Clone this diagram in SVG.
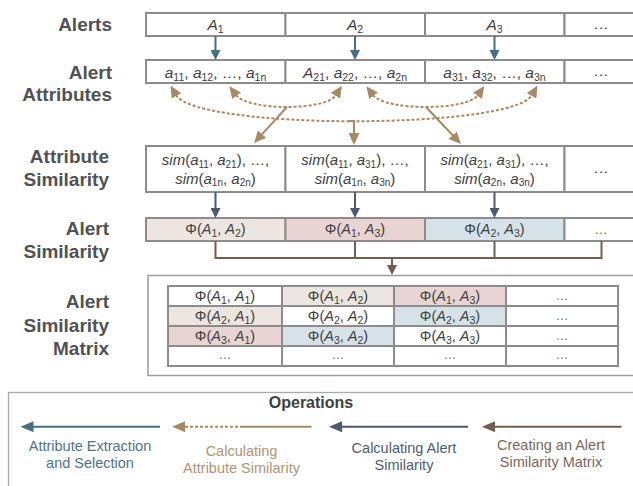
<svg xmlns="http://www.w3.org/2000/svg" width="633" height="486" viewBox="0 0 633 486">
  <style>
    text { font-family: "Liberation Sans", Arial, sans-serif; }
    .lbl { font-size: 19px; font-weight: bold; fill: #525252; text-anchor: end; }
    .cell { fill: #ffffff; stroke: #8c8c8c; stroke-width: 2; }
    .beige { fill: #ede5df; }
    .pink { fill: #e8d4d2; }
    .blue { fill: #d5e3e9; }
    .t { font-size: 15.5px; fill: #404040; text-anchor: middle; }
    .s { font-size: 15px; fill: #404040; text-anchor: middle; }
    .m { font-size: 14.5px; fill: #404040; text-anchor: middle; }
    .dots { font-size: 13px; fill: #707070; text-anchor: middle; }
    .i { font-style: italic; }
    .sub { font-size: 10.5px; font-style: normal; }
    .ssub { font-size: 10px; font-style: normal; }
    .frame { fill: none; stroke: #9c9c9c; stroke-width: 1.5; }
    .legend { fill: none; stroke: #aaaaaa; stroke-width: 1.3; }
    .teal { stroke: #456f87; stroke-width: 2; fill: none; }
    .slate { stroke: #4b5a6f; stroke-width: 2; fill: none; }
    .tan { stroke: #a88a62; stroke-width: 2; fill: none; }
    .tandash { stroke: #a88a62; stroke-width: 2; fill: none; stroke-dasharray: 3 2; }
    .brown { stroke: #725e51; stroke-width: 2; fill: none; }
    .op { font-size: 14.5px; text-anchor: middle; }
  </style>
  <defs>
    <marker id="hTeal" viewBox="0 0 10 10" markerUnits="userSpaceOnUse" markerWidth="10" markerHeight="10" refX="1" refY="5" orient="auto">
      <path d="M0,0 L10,5 L0,10 z" fill="#456f87"/>
    </marker>
    <marker id="hSlate" viewBox="0 0 10 10" markerUnits="userSpaceOnUse" markerWidth="10" markerHeight="10" refX="1" refY="5" orient="auto">
      <path d="M0,0 L10,5 L0,10 z" fill="#4b5a6f"/>
    </marker>
    <marker id="hBrown" viewBox="0 0 10 10" markerUnits="userSpaceOnUse" markerWidth="10" markerHeight="10" refX="1" refY="5" orient="auto">
      <path d="M0,0 L10,5 L0,10 z" fill="#725e51"/>
    </marker>
    <marker id="hTan" viewBox="0 0 12 11" markerUnits="userSpaceOnUse" markerWidth="12" markerHeight="11" refX="1" refY="5.5" orient="auto-start-reverse">
      <path d="M0,0 L12,5.5 L0,11 z" fill="#a88a62"/>
    </marker>
    <marker id="lTeal" viewBox="0 0 13 11" markerUnits="userSpaceOnUse" markerWidth="13" markerHeight="11" refX="1" refY="5.5" orient="auto">
      <path d="M0,0 L13,5.5 L0,11 z" fill="#456f87"/>
    </marker>
    <marker id="lTan" viewBox="0 0 13 11" markerUnits="userSpaceOnUse" markerWidth="13" markerHeight="11" refX="1" refY="5.5" orient="auto">
      <path d="M0,0 L13,5.5 L0,11 z" fill="#a88a62"/>
    </marker>
    <marker id="lSlate" viewBox="0 0 13 11" markerUnits="userSpaceOnUse" markerWidth="13" markerHeight="11" refX="1" refY="5.5" orient="auto">
      <path d="M0,0 L13,5.5 L0,11 z" fill="#4b5a6f"/>
    </marker>
    <marker id="lBrown" viewBox="0 0 13 11" markerUnits="userSpaceOnUse" markerWidth="13" markerHeight="11" refX="1" refY="5.5" orient="auto">
      <path d="M0,0 L13,5.5 L0,11 z" fill="#725e51"/>
    </marker>
  </defs>

  <!-- row labels -->
  <g id="labels">
    <text class="lbl" x="112" y="31">Alerts</text>
    <text class="lbl" x="112" y="79">Alert</text>
    <text class="lbl" x="112" y="101">Attributes</text>
    <text class="lbl" x="109" y="163">Attribute</text>
    <text class="lbl" x="109" y="186">Similarity</text>
    <text class="lbl" x="109" y="235">Alert</text>
    <text class="lbl" x="109" y="258">Similarity</text>
    <text class="lbl" x="109" y="308">Alert</text>
    <text class="lbl" x="109" y="331.5">Similarity</text>
    <text class="lbl" x="109" y="355">Matrix</text>
  </g>

  <!-- alerts row -->
  <g id="alert-1">
    <rect class="cell" x="146" y="13" width="139.5" height="23"/>
    <text class="t" x="215.5" y="30"><tspan class="i">A</tspan><tspan class="sub" dy="3">1</tspan></text>
  </g>
  <g id="alert-2">
    <rect class="cell" x="285.5" y="13" width="139.5" height="23"/>
    <text class="t" x="355" y="30"><tspan class="i">A</tspan><tspan class="sub" dy="3">2</tspan></text>
  </g>
  <g id="alert-3">
    <rect class="cell" x="425" y="13" width="139.5" height="23"/>
    <text class="t" x="494.5" y="30"><tspan class="i">A</tspan><tspan class="sub" dy="3">3</tspan></text>
  </g>
  <g id="alert-more">
    <rect class="cell" x="564.5" y="13" width="80" height="23"/>
    <text class="t" x="601" y="29">…</text>
  </g>

  <!-- attributes row -->
  <g id="attrs-1">
    <rect class="cell" x="146" y="60" width="139.5" height="23"/>
    <text class="t" x="215.5" y="77.5"><tspan class="i">a</tspan><tspan class="sub" dy="3">11</tspan><tspan dy="-3">, </tspan><tspan class="i">a</tspan><tspan class="sub" dy="3">12</tspan><tspan dy="-3">, …, </tspan><tspan class="i">a</tspan><tspan class="sub" dy="3">1n</tspan></text>
  </g>
  <g id="attrs-2">
    <rect class="cell" x="285.5" y="60" width="139.5" height="23"/>
    <text class="t" x="355" y="77.5"><tspan class="i">A</tspan><tspan class="sub" dy="3">21</tspan><tspan dy="-3">, </tspan><tspan class="i">a</tspan><tspan class="sub" dy="3">22</tspan><tspan dy="-3">, …, </tspan><tspan class="i">a</tspan><tspan class="sub" dy="3">2n</tspan></text>
  </g>
  <g id="attrs-3">
    <rect class="cell" x="425" y="60" width="139.5" height="23"/>
    <text class="t" x="494.5" y="77.5"><tspan class="i">a</tspan><tspan class="sub" dy="3">31</tspan><tspan dy="-3">, </tspan><tspan class="i">a</tspan><tspan class="sub" dy="3">32</tspan><tspan dy="-3">, …, </tspan><tspan class="i">a</tspan><tspan class="sub" dy="3">3n</tspan></text>
  </g>
  <g id="attrs-more">
    <rect class="cell" x="564.5" y="60" width="80" height="23"/>
    <text class="t" x="601" y="76">…</text>
  </g>

  <!-- attribute similarity row -->
  <g id="attrsim-12">
    <rect class="cell" x="146" y="146" width="139.5" height="46"/>
    <text class="s" x="215.5" y="165"><tspan class="i">sim</tspan>(<tspan class="i">a</tspan><tspan class="ssub" dy="2.5">11</tspan><tspan dy="-2.5">, </tspan><tspan class="i">a</tspan><tspan class="ssub" dy="2.5">21</tspan><tspan dy="-2.5">), …,</tspan></text>
    <text class="s" x="215.5" y="183.5"><tspan class="i">sim</tspan>(<tspan class="i">a</tspan><tspan class="ssub" dy="2.5">1n</tspan><tspan dy="-2.5">, </tspan><tspan class="i">a</tspan><tspan class="ssub" dy="2.5">2n</tspan><tspan dy="-2.5">)</tspan></text>
  </g>
  <g id="attrsim-13">
    <rect class="cell" x="285.5" y="146" width="139.5" height="46"/>
    <text class="s" x="355" y="165"><tspan class="i">sim</tspan>(<tspan class="i">a</tspan><tspan class="ssub" dy="2.5">11</tspan><tspan dy="-2.5">, </tspan><tspan class="i">a</tspan><tspan class="ssub" dy="2.5">31</tspan><tspan dy="-2.5">), …,</tspan></text>
    <text class="s" x="355" y="183.5"><tspan class="i">sim</tspan>(<tspan class="i">a</tspan><tspan class="ssub" dy="2.5">1n</tspan><tspan dy="-2.5">, </tspan><tspan class="i">a</tspan><tspan class="ssub" dy="2.5">3n</tspan><tspan dy="-2.5">)</tspan></text>
  </g>
  <g id="attrsim-23">
    <rect class="cell" x="425" y="146" width="139.5" height="46"/>
    <text class="s" x="494.5" y="165"><tspan class="i">sim</tspan>(<tspan class="i">a</tspan><tspan class="ssub" dy="2.5">21</tspan><tspan dy="-2.5">, </tspan><tspan class="i">a</tspan><tspan class="ssub" dy="2.5">31</tspan><tspan dy="-2.5">), …,</tspan></text>
    <text class="s" x="494.5" y="183.5"><tspan class="i">sim</tspan>(<tspan class="i">a</tspan><tspan class="ssub" dy="2.5">2n</tspan><tspan dy="-2.5">, </tspan><tspan class="i">a</tspan><tspan class="ssub" dy="2.5">3n</tspan><tspan dy="-2.5">)</tspan></text>
  </g>
  <g id="attrsim-more">
    <rect class="cell" x="564.5" y="146" width="80" height="46"/>
    <text class="t" x="601" y="173">…</text>
  </g>

  <!-- alert similarity row -->
  <g id="alertsim-12">
    <rect class="cell beige" x="146" y="218" width="139.5" height="23"/>
    <text class="m" x="215.5" y="234">Φ(<tspan class="i">A</tspan><tspan class="sub" dy="3">1</tspan><tspan dy="-3">, </tspan><tspan class="i">A</tspan><tspan class="sub" dy="3">2</tspan><tspan dy="-3">)</tspan></text>
  </g>
  <g id="alertsim-13">
    <rect class="cell pink" x="285.5" y="218" width="139.5" height="23"/>
    <text class="m" x="355" y="234">Φ(<tspan class="i">A</tspan><tspan class="sub" dy="3">1</tspan><tspan dy="-3">, </tspan><tspan class="i">A</tspan><tspan class="sub" dy="3">3</tspan><tspan dy="-3">)</tspan></text>
  </g>
  <g id="alertsim-23">
    <rect class="cell blue" x="425" y="218" width="139.5" height="23"/>
    <text class="m" x="494.5" y="234">Φ(<tspan class="i">A</tspan><tspan class="sub" dy="3">2</tspan><tspan dy="-3">, </tspan><tspan class="i">A</tspan><tspan class="sub" dy="3">3</tspan><tspan dy="-3">)</tspan></text>
  </g>
  <g id="alertsim-more">
    <rect class="cell" x="564.5" y="218" width="80" height="23"/>
    <text class="dots" x="601" y="234">…</text>
  </g>

  <!-- similarity matrix -->
  <g id="matrix">
    <rect class="frame" x="148" y="275.5" width="500" height="100"/>
    <g id="matrix-row-1">
      <rect class="cell" x="168" y="286" width="114" height="20"/>
      <rect class="cell beige" x="282" y="286" width="112" height="20"/>
      <rect class="cell pink" x="394" y="286" width="112" height="20"/>
      <rect class="cell" x="506" y="286" width="112" height="20"/>
      <text class="m" x="225" y="301">Φ(<tspan class="i">A</tspan><tspan class="sub" dy="3">1</tspan><tspan dy="-3">, </tspan><tspan class="i">A</tspan><tspan class="sub" dy="3">1</tspan><tspan dy="-3">)</tspan></text>
      <text class="m" x="338" y="301">Φ(<tspan class="i">A</tspan><tspan class="sub" dy="3">1</tspan><tspan dy="-3">, </tspan><tspan class="i">A</tspan><tspan class="sub" dy="3">2</tspan><tspan dy="-3">)</tspan></text>
      <text class="m" x="450" y="301">Φ(<tspan class="i">A</tspan><tspan class="sub" dy="3">1</tspan><tspan dy="-3">, </tspan><tspan class="i">A</tspan><tspan class="sub" dy="3">3</tspan><tspan dy="-3">)</tspan></text>
      <text class="dots" x="562" y="300">…</text>
    </g>
    <g id="matrix-row-2">
      <rect class="cell beige" x="168" y="306" width="114" height="20"/>
      <rect class="cell" x="282" y="306" width="112" height="20"/>
      <rect class="cell blue" x="394" y="306" width="112" height="20"/>
      <rect class="cell" x="506" y="306" width="112" height="20"/>
      <text class="m" x="225" y="321">Φ(<tspan class="i">A</tspan><tspan class="sub" dy="3">2</tspan><tspan dy="-3">, </tspan><tspan class="i">A</tspan><tspan class="sub" dy="3">1</tspan><tspan dy="-3">)</tspan></text>
      <text class="m" x="338" y="321">Φ(<tspan class="i">A</tspan><tspan class="sub" dy="3">2</tspan><tspan dy="-3">, </tspan><tspan class="i">A</tspan><tspan class="sub" dy="3">2</tspan><tspan dy="-3">)</tspan></text>
      <text class="m" x="450" y="321">Φ(<tspan class="i">A</tspan><tspan class="sub" dy="3">2</tspan><tspan dy="-3">, </tspan><tspan class="i">A</tspan><tspan class="sub" dy="3">3</tspan><tspan dy="-3">)</tspan></text>
      <text class="dots" x="562" y="320">…</text>
    </g>
    <g id="matrix-row-3">
      <rect class="cell pink" x="168" y="326" width="114" height="20"/>
      <rect class="cell blue" x="282" y="326" width="112" height="20"/>
      <rect class="cell" x="394" y="326" width="112" height="20"/>
      <rect class="cell" x="506" y="326" width="112" height="20"/>
      <text class="m" x="225" y="341">Φ(<tspan class="i">A</tspan><tspan class="sub" dy="3">3</tspan><tspan dy="-3">, </tspan><tspan class="i">A</tspan><tspan class="sub" dy="3">1</tspan><tspan dy="-3">)</tspan></text>
      <text class="m" x="338" y="341">Φ(<tspan class="i">A</tspan><tspan class="sub" dy="3">3</tspan><tspan dy="-3">, </tspan><tspan class="i">A</tspan><tspan class="sub" dy="3">2</tspan><tspan dy="-3">)</tspan></text>
      <text class="m" x="450" y="341">Φ(<tspan class="i">A</tspan><tspan class="sub" dy="3">3</tspan><tspan dy="-3">, </tspan><tspan class="i">A</tspan><tspan class="sub" dy="3">3</tspan><tspan dy="-3">)</tspan></text>
      <text class="dots" x="562" y="340">…</text>
    </g>
    <g id="matrix-row-4">
      <rect class="cell" x="168" y="346" width="114" height="20"/>
      <rect class="cell" x="282" y="346" width="112" height="20"/>
      <rect class="cell" x="394" y="346" width="112" height="20"/>
      <rect class="cell" x="506" y="346" width="112" height="20"/>
      <text class="dots" x="225" y="359">…</text>
      <text class="dots" x="338" y="359">…</text>
      <text class="dots" x="450" y="359">…</text>
      <text class="dots" x="562" y="359">…</text>
    </g>
  </g>

  <!-- connectors -->
  <g id="connectors">
    <!-- attribute extraction -->
    <line class="teal" x1="215.5" y1="36" x2="215.5" y2="51" marker-end="url(#hTeal)"/>
    <line class="teal" x1="355" y1="36" x2="355" y2="51" marker-end="url(#hTeal)"/>
    <line class="teal" x1="494.5" y1="36" x2="494.5" y2="51" marker-end="url(#hTeal)"/>

    <!-- attribute pair comparisons -->
    <path class="tandash" d="M236,95 C248,111 326,111 336,95" marker-start="url(#hTan)" marker-end="url(#hTan)"/>
    <path class="tandash" d="M373,95 C385,111 467,111 478,95" marker-start="url(#hTan)" marker-end="url(#hTan)"/>
    <path class="tandash" d="M176,95 C196,130 512,130 532,95" marker-start="url(#hTan)" marker-end="url(#hTan)"/>
    <line class="tan" x1="287" y1="107" x2="261.4" y2="134.9" marker-end="url(#hTan)"/>
    <polyline class="tan" points="349,121 354,121 354,134" marker-end="url(#hTan)"/>
    <line class="tan" x1="426" y1="107" x2="453.4" y2="136" marker-end="url(#hTan)"/>

    <!-- attribute similarity to alert similarity -->
    <line class="slate" x1="215.5" y1="192" x2="215.5" y2="209" marker-end="url(#hSlate)"/>
    <line class="slate" x1="355" y1="192" x2="355" y2="209" marker-end="url(#hSlate)"/>
    <line class="slate" x1="494.5" y1="192" x2="494.5" y2="209" marker-end="url(#hSlate)"/>

    <!-- alert similarities collected into the matrix -->
    <polyline class="brown" points="215.5,241 215.5,258 601.5,258 601.5,241"/>
    <line class="brown" x1="355" y1="241" x2="355" y2="258"/>
    <line class="brown" x1="494.5" y1="241" x2="494.5" y2="258"/>
    <line class="brown" x1="392" y1="258" x2="392" y2="266" marker-end="url(#hBrown)"/>
  </g>

  <!-- operations legend -->
  <g id="legend">
    <rect class="legend" x="8.5" y="392.5" width="640" height="110"/>
    <text x="311" y="408" font-size="16px" font-weight="bold" fill="#404040" text-anchor="middle">Operations</text>
    <g id="op-extraction">
      <line class="teal" x1="160" y1="426.7" x2="32.5" y2="426.7" marker-end="url(#lTeal)"/>
      <text class="op" x="90" y="451" fill="#4d7489">Attribute Extraction</text>
      <text class="op" x="90" y="468" fill="#4d7489">and Selection</text>
    </g>
    <g id="op-attr-sim">
      <line class="tan" x1="311.5" y1="426.7" x2="243" y2="426.7"/>
      <line class="tandash" x1="243" y1="426.7" x2="184" y2="426.7" marker-end="url(#lTan)"/>
      <text class="op" x="241.5" y="456" fill="#b39470">Calculating</text>
      <text class="op" x="241.5" y="473" fill="#b39470">Attribute Similarity</text>
    </g>
    <g id="op-alert-sim">
      <line class="slate" x1="468" y1="426.7" x2="341" y2="426.7" marker-end="url(#lSlate)"/>
      <text class="op" x="404" y="453" fill="#4e5d72">Calculating Alert</text>
      <text class="op" x="404" y="470" fill="#4e5d72">Similarity</text>
    </g>
    <g id="op-matrix">
      <line class="brown" x1="621.5" y1="426.7" x2="494" y2="426.7" marker-end="url(#lBrown)"/>
      <text class="op" x="551" y="450" fill="#7a675c">Creating an Alert</text>
      <text class="op" x="551" y="467" fill="#7a675c">Similarity Matrix</text>
    </g>
  </g>
</svg>
